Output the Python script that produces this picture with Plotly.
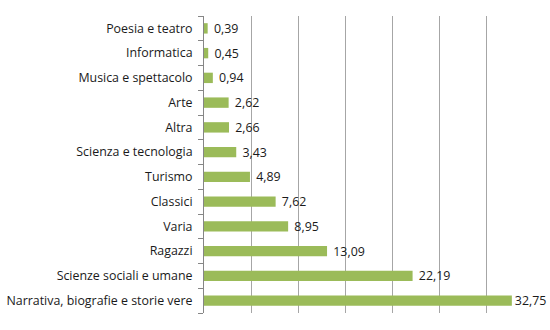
import plotly.graph_objects as go

# Categories listed top to bottom as displayed
categories = [
    "Poesia e teatro",
    "Informatica",
    "Musica e spettacolo",
    "Arte",
    "Altra",
    "Scienza e tecnologia",
    "Turismo",
    "Classici",
    "Varia",
    "Ragazzi",
    "Scienze sociali e umane",
    "Narrativa, biografie e storie vere",
]
values = [0.39, 0.45, 0.94, 2.62, 2.66, 3.43, 4.89, 7.62, 8.95, 13.09, 22.19, 32.75]

# Italian-style decimal labels; the longest bar's label sits tight against
# the plot edge, the others get a small gap from the bar end
value_labels = [f"{v:.2f}".replace(".", ",") for v in values]
value_labels = [(" " + s if v < max(values) else s) for s, v in zip(value_labels, values)]

font_family = "Open Sans, Liberation Sans, Arial, sans-serif"

fig = go.Figure(
    go.Bar(
        x=values,
        y=categories,
        orientation="h",
        marker=dict(color="#9BBB59", line=dict(width=0)),
        text=value_labels,
        textposition="outside",
        constraintext="none",
        cliponaxis=False,
        textfont=dict(family=font_family, size=12.4, color="#1a1a1a"),
        hoverinfo="skip",
    )
)

fig.update_layout(
    width=550,
    height=330,
    margin=dict(l=204, r=17, t=16, b=17, autoexpand=False),
    paper_bgcolor="white",
    plot_bgcolor="white",
    bargap=0.58,
    showlegend=False,
    font=dict(family=font_family, size=12.4, color="#1a1a1a"),
)

fig.update_xaxes(
    range=[0, 35],
    dtick=5,
    showticklabels=False,
    showgrid=True,
    gridcolor="#A6A6A6",
    gridwidth=1,
    zeroline=False,
    showline=False,
    ticks="",
    automargin=False,
)

fig.update_yaxes(
    categoryorder="array",
    categoryarray=categories[::-1],
    showline=True,
    linecolor="#868686",
    linewidth=1,
    ticks="outside",
    ticklen=5,
    tickcolor="#868686",
    tickson="boundaries",
    ticklabelstandoff=8,
    showgrid=False,
    zeroline=False,
    automargin=False,
)

fig.write_html("out.html")
